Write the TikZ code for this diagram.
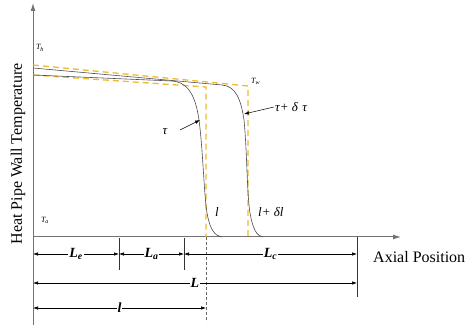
\documentclass[tikz,border=0pt]{standalone}
\usepackage{fontspec}
\setmainfont{Liberation Serif}
\usetikzlibrary{arrows.meta}
\definecolor{pipeyellow}{RGB}{238,186,48}
\begin{document}
\begin{tikzpicture}[x=1pt,y=-1pt,
 axis/.style={draw=black!55, line width=1pt},
 curve/.style={draw=black!70, line width=0.6pt},
 ydash/.style={draw=pipeyellow, line width=1.3pt, dash pattern=on 6pt off 4pt},
 dim/.style={draw=black, line width=0.6pt, {Latex[length=5pt,width=3.5pt]}-{Latex[length=5pt,width=3.5pt]}},
 tickline/.style={draw=black!80, line width=0.6pt},
 lab/.style={font=\itshape\fontsize{13}{15}\selectfont, inner sep=1pt},
 dimlab/.style={font=\bfseries\itshape\fontsize{14}{16}\selectfont, fill=white, inner sep=1pt},
 tiny/.style={font=\itshape\fontsize{8}{9}\selectfont, inner sep=0pt},
 ptr/.style={draw=black, line width=0.5pt, -{Latex[length=5pt,width=3.5pt]}},
 big/.style={font=\fontsize{16}{18}\selectfont, inner sep=0pt}
]
\useasboundingbox (0,0) rectangle (468,328);
% axes
\coordinate (O) at (33,237);
\coordinate (ytop) at (33,3);
\coordinate (ybot) at (33,325);
\coordinate (xend) at (401,237);
\draw[axis,-{Latex[length=8pt,width=5pt]}] (ybot) -- (ytop);
\draw[axis,-{Latex[length=8pt,width=5pt]}] (O) -- (xend);
% yellow dashed idealised profiles
\coordinate (ya0) at (33,65);
\coordinate (ya1) at (248,86);
\coordinate (ya2) at (248,237);
\coordinate (yb0) at (33,75);
\coordinate (yb1) at (206,87);
\coordinate (yb2) at (206,237);
\draw[ydash] (ya0) -- (ya1) -- (ya2);
\draw[ydash] (yb0) -- (yb1) -- (yb2);
% black curves
\draw[curve] (33,75) -- (172,81) .. controls (186,82) and (195,92) .. (199,120)
  .. controls (203,150) and (204,195) .. (207,213) .. controls (210,230) and (215,236) .. (222,237);
\draw[curve] (33,68) -- (222,85) .. controls (236,86) and (241,100) .. (244,120)
  .. controls (247,150) and (247,195) .. (250,213) .. controls (253,230) and (257,236) .. (263,237);
% labels on curves
\node[tiny] (Th) at (40,48) {T\textsubscript{h}};
\node[tiny,anchor=west] (Tw) at (251,81) {T\textsubscript{w}};
\node[tiny] (Ta) at (45,220) {T\textsubscript{a}};
\node[lab] (tau) at (165,132) {τ};
\node[lab,anchor=west] (tau2) at (274,107) {τ+ δ\,\,τ};
\coordinate (tauhit) at (200,120);
\coordinate (tau2hit) at (244,114);
\draw[ptr] (180,130) -- (tauhit);
\draw[ptr] (tau2.west) -- (tau2hit);
\node[lab] (l1) at (217,212) {l};
\node[lab,anchor=west] (l2) at (257,212) {l+ δl};
% dimension lines
\coordinate (t1top) at (119,238);
\coordinate (t1bot) at (119,270);
\coordinate (t2top) at (184,238);
\coordinate (t2bot) at (184,270);
\coordinate (t3top) at (357,237);
\coordinate (t3bot) at (357,297);
\draw[tickline] (t1top) -- (t1bot);
\draw[tickline] (t2top) -- (t2bot);
\draw[tickline] (t3top) -- (t3bot);
\draw[draw=black!60, line width=0.6pt, dash pattern=on 3pt off 2pt] (yb2) -- (206,322);
\draw[dim] (33,254) -- node[dimlab] (Le) {L\textsubscript{e}} (119,254);
\draw[dim] (119,254) -- node[dimlab] (La) {L\textsubscript{a}} (184,254);
\draw[dim] (184,254) -- node[dimlab,pos=0.5] (Lc) {L\textsubscript{c}} (357,254);
\draw[dim] (33,283) -- node[dimlab] (L) {L} (357,283);
\draw[dim] (33,308) -- node[dimlab] (lw) {l} (206,308);
% axis titles
\node[big,rotate=90] (ylab) at (18,154) {Heat Pipe Wall Temperature};
\node[big,anchor=west] (xlab) at (373,257) {Axial Position};
\end{tikzpicture}
\end{document}
